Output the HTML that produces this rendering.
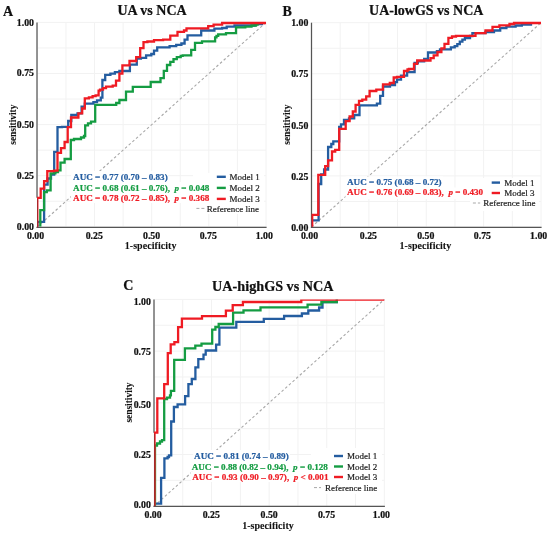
<!DOCTYPE html>
<html><head><meta charset="utf-8"><style>
html,body{margin:0;padding:0;background:#fff;}
svg{display:block;will-change:transform;font-family:"Liberation Serif",serif;}
text{white-space:pre;}
</style></head><body>
<svg width="550" height="536" viewBox="0 0 550 536">
<rect width="550" height="536" fill="#fff"/>
<g stroke="#f2f2f2" stroke-width="1"><line x1="37.40" y1="22.40" x2="37.40" y2="226.80"/><line x1="37.40" y1="226.80" x2="266.00" y2="226.80"/><line x1="65.97" y1="22.40" x2="65.97" y2="226.80"/><line x1="37.40" y1="201.25" x2="266.00" y2="201.25"/><line x1="94.55" y1="22.40" x2="94.55" y2="226.80"/><line x1="37.40" y1="175.70" x2="266.00" y2="175.70"/><line x1="123.12" y1="22.40" x2="123.12" y2="226.80"/><line x1="37.40" y1="150.15" x2="266.00" y2="150.15"/><line x1="151.70" y1="22.40" x2="151.70" y2="226.80"/><line x1="37.40" y1="124.60" x2="266.00" y2="124.60"/><line x1="180.28" y1="22.40" x2="180.28" y2="226.80"/><line x1="37.40" y1="99.05" x2="266.00" y2="99.05"/><line x1="208.85" y1="22.40" x2="208.85" y2="226.80"/><line x1="37.40" y1="73.50" x2="266.00" y2="73.50"/><line x1="237.43" y1="22.40" x2="237.43" y2="226.80"/><line x1="37.40" y1="47.95" x2="266.00" y2="47.95"/><line x1="266.00" y1="22.40" x2="266.00" y2="226.80"/><line x1="37.40" y1="22.40" x2="266.00" y2="22.40"/></g>
<line x1="37.40" y1="226.80" x2="266.00" y2="22.40" stroke="#a8a8a8" stroke-width="1.1" stroke-dasharray="2.6,2.3"/>
<rect x="71" y="171" width="97.0" height="11.0" fill="#fff"/>
<rect x="71" y="182" width="141.0" height="10.5" fill="#fff"/>
<rect x="71" y="192.5" width="141.0" height="10.5" fill="#fff"/>
<rect x="193" y="173" width="71.0" height="41.0" fill="#fff"/>
<line x1="36.40" y1="227.40" x2="266.60" y2="227.40" stroke="#555" stroke-width="1.25"/>
<line x1="37.00" y1="197.80" x2="37.00" y2="22.40" stroke="#555" stroke-width="1.25"/>
<clipPath id="clipA"><rect x="37.00" y="19.40" width="232.00" height="207.40"/></clipPath>
<g clip-path="url(#clipA)">
<polyline points="37.4,226.7 37.4,221.9 44.1,221.9 44.1,184.6 47.6,184.6 47.6,178.5 51.0,178.5 51.0,174.5 54.2,174.5 54.2,151.8 57.5,151.8 57.5,127.2 62.0,127.2 62.0,126.8 68.2,126.8 68.2,121.0 71.3,121.0 71.3,115.0 77.5,115.0 77.5,113.4 81.6,113.4 81.6,106.7 84.8,106.7 84.8,103.7 93.4,103.7 93.4,102.2 97.0,102.2 97.0,100.3 100.8,100.3 100.8,97.7 102.4,97.7 102.4,80.0 105.2,80.0 105.2,74.8 110.4,74.8 110.4,73.7 114.9,73.7 114.9,72.2 119.4,72.2 119.4,71.0 129.9,71.0 129.9,64.7 136.8,64.7 136.8,58.7 140.9,58.7 140.9,57.9 146.1,57.9 146.1,55.3 151.3,55.3 151.3,54.0 154.0,54.0 154.0,50.7 157.2,50.7 157.2,47.4 169.6,47.4 169.6,46.1 176.2,46.1 176.2,44.8 181.4,44.8 181.4,43.5 184.6,43.5 184.6,39.6 187.5,39.6 187.5,35.3 201.2,35.3 201.2,30.5 214.4,30.5 214.4,28.6 222.1,28.6 222.1,28.0 226.7,28.0 226.7,26.6 234.5,26.6 234.5,25.5 254.6,25.5 254.6,24.0 262.0,24.0 262.0,23.0" fill="none" stroke="#245da0" stroke-width="2.3" stroke-linejoin="miter" stroke-linecap="butt"/>
<polyline points="40.3,226.7 40.3,210.1 44.1,210.1 44.1,192.2 46.8,192.2 46.8,190.3 50.6,190.3 50.6,173.4 55.4,173.4 55.4,172.0 58.0,172.0 58.0,170.3 60.5,170.3 60.5,162.6 64.6,162.6 64.6,159.0 70.8,159.0 70.8,140.0 74.0,140.0 74.0,139.0 81.0,139.0 81.0,137.5 84.0,137.5 84.0,136.0 85.2,136.0 85.2,125.3 88.0,125.3 88.0,123.3 91.0,123.3 91.0,121.6 95.2,121.6 95.2,104.8 116.2,104.8 116.2,103.0 119.4,103.0 119.4,100.0 126.0,100.0 126.0,91.6 132.8,91.6 132.8,86.8 150.7,86.8 150.7,82.0 160.5,82.0 160.5,78.1 163.8,78.1 163.8,70.9 167.0,70.9 167.0,65.0 170.3,65.0 170.3,61.8 173.5,61.8 173.5,59.2 176.8,59.2 176.8,57.2 180.7,57.2 180.7,55.9 182.7,55.9 182.7,55.3 191.2,55.3 191.2,49.8 195.0,49.8 195.0,42.8 202.0,42.8 202.0,41.3 215.1,41.3 215.1,37.4 216.5,37.4 216.5,35.9 218.2,35.9 218.2,34.3 226.0,34.3 226.0,33.2 236.0,33.2 236.0,27.4 245.3,27.4 245.3,26.6 251.5,26.6 251.5,25.5 256.0,25.5 256.0,24.6 257.6,24.6 257.6,23.0" fill="none" stroke="#149c42" stroke-width="2.3" stroke-linejoin="miter" stroke-linecap="butt"/>
<polyline points="37.3,226.7 37.3,197.9 40.7,197.9 40.7,188.7 44.1,188.7 44.1,181.2 47.3,181.2 47.3,171.2 54.0,171.2 54.0,170.6 57.5,170.6 57.5,152.9 61.0,152.9 61.0,148.2 64.6,148.2 64.6,142.0 67.7,142.0 67.7,127.2 71.0,127.2 71.0,117.5 78.4,117.5 78.4,113.4 82.2,113.4 82.2,108.5 84.8,108.5 84.8,98.3 88.9,98.3 88.9,97.3 92.6,97.3 92.6,96.2 95.6,96.2 95.6,95.4 98.6,95.4 98.6,90.6 100.0,90.6 100.0,89.7 103.0,89.7 103.0,88.2 106.0,88.2 106.0,86.7 112.7,86.7 112.7,85.6 116.0,85.6 116.0,80.7 119.4,80.7 119.4,73.7 122.4,73.7 122.4,65.4 129.5,65.4 129.5,61.0 136.2,61.0 136.2,57.2 140.2,57.2 140.2,48.1 143.5,48.1 143.5,42.2 147.4,42.2 147.4,41.5 154.0,41.5 154.0,40.2 163.1,40.2 163.1,39.6 170.3,39.6 170.3,35.7 177.5,35.7 177.5,31.8 184.0,31.8 184.0,30.5 186.5,30.5 186.5,28.3 208.2,28.3 208.2,26.1 213.6,26.1 213.6,24.6 222.1,24.6 222.1,23.0 266.0,23.0" fill="none" stroke="#ef1b23" stroke-width="2.3" stroke-linejoin="miter" stroke-linecap="butt"/>
</g>
<line x1="37.50" y1="227.40" x2="37.50" y2="198.80" stroke="#a8262b" stroke-width="1.0"/>
<g stroke="#f2f2f2" stroke-width="1"><line x1="311.50" y1="22.70" x2="311.50" y2="227.00"/><line x1="311.50" y1="227.00" x2="541.00" y2="227.00"/><line x1="340.19" y1="22.70" x2="340.19" y2="227.00"/><line x1="311.50" y1="201.46" x2="541.00" y2="201.46"/><line x1="368.88" y1="22.70" x2="368.88" y2="227.00"/><line x1="311.50" y1="175.93" x2="541.00" y2="175.93"/><line x1="397.56" y1="22.70" x2="397.56" y2="227.00"/><line x1="311.50" y1="150.39" x2="541.00" y2="150.39"/><line x1="426.25" y1="22.70" x2="426.25" y2="227.00"/><line x1="311.50" y1="124.85" x2="541.00" y2="124.85"/><line x1="454.94" y1="22.70" x2="454.94" y2="227.00"/><line x1="311.50" y1="99.31" x2="541.00" y2="99.31"/><line x1="483.62" y1="22.70" x2="483.62" y2="227.00"/><line x1="311.50" y1="73.77" x2="541.00" y2="73.77"/><line x1="512.31" y1="22.70" x2="512.31" y2="227.00"/><line x1="311.50" y1="48.24" x2="541.00" y2="48.24"/><line x1="541.00" y1="22.70" x2="541.00" y2="227.00"/><line x1="311.50" y1="22.70" x2="541.00" y2="22.70"/></g>
<line x1="311.50" y1="227.00" x2="541.00" y2="22.70" stroke="#a8a8a8" stroke-width="1.1" stroke-dasharray="2.6,2.3"/>
<rect x="345.5" y="176.5" width="97.5" height="11.0" fill="#fff"/>
<rect x="345.5" y="187.5" width="138.5" height="11.5" fill="#fff"/>
<rect x="470" y="178" width="69.0" height="33.0" fill="#fff"/>
<line x1="310.90" y1="227.30" x2="541.60" y2="227.30" stroke="#555" stroke-width="1.25"/>
<line x1="311.50" y1="227.90" x2="311.50" y2="22.70" stroke="#555" stroke-width="1.25"/>
<clipPath id="clipB"><rect x="311.50" y="19.70" width="232.50" height="207.00"/></clipPath>
<g clip-path="url(#clipB)">
<polyline points="311.5,227.0 311.5,220.4 318.6,220.4 318.6,184.0 321.2,184.0 321.2,174.3 324.1,174.3 324.1,169.5 328.1,169.5 328.1,147.0 331.3,147.0 331.3,144.0 333.3,144.0 333.3,141.3 339.2,141.3 339.2,127.0 341.0,127.0 341.0,124.4 344.0,124.4 344.0,119.8 349.0,119.8 349.0,118.3 354.2,118.3 354.2,115.0 359.5,115.0 359.5,105.4 376.9,105.4 376.9,103.7 380.2,103.7 380.2,95.8 383.0,95.8 383.0,86.5 390.0,86.5 390.0,85.2 395.0,85.2 395.0,82.2 397.0,82.2 397.0,79.6 401.0,79.6 401.0,75.7 407.1,75.7 407.1,72.2 414.6,72.2 414.6,63.0 417.8,63.0 417.8,61.4 424.2,61.4 424.2,58.8 428.0,58.8 428.0,52.5 436.9,52.5 436.9,51.2 440.0,51.2 440.0,49.3 450.9,49.3 450.9,47.4 454.7,47.4 454.7,46.1 457.3,46.1 457.3,44.2 459.8,44.2 459.8,41.6 462.4,41.6 462.4,39.7 464.9,39.7 464.9,38.2 470.0,38.2 470.0,36.0 472.4,36.0 472.4,33.2 485.5,33.2 485.5,32.0 494.0,32.0 494.0,30.5 500.2,30.5 500.2,28.1 506.4,28.1 506.4,26.6 515.6,26.6 515.6,25.5 521.8,25.5 521.8,24.6 531.0,24.6 531.0,23.0" fill="none" stroke="#245da0" stroke-width="2.3" stroke-linejoin="miter" stroke-linecap="butt"/>
<polyline points="312.2,227.0 312.2,214.8 318.3,214.8 318.3,174.8 325.2,174.8 325.2,166.2 328.1,166.2 328.1,160.3 332.0,160.3 332.0,151.5 335.2,151.5 335.2,149.8 339.2,149.8 339.2,128.9 345.7,128.9 345.7,121.1 349.6,121.1 349.6,116.5 352.8,116.5 352.8,111.5 355.6,111.5 355.6,104.8 359.0,104.8 359.0,100.9 362.3,100.9 362.3,99.7 366.2,99.7 366.2,96.4 369.6,96.4 369.6,91.0 376.3,91.0 376.3,89.7 383.0,89.7 383.0,84.3 389.8,84.3 389.8,83.0 393.7,83.0 393.7,77.5 397.0,77.5 397.0,76.8 404.0,76.8 404.0,71.0 407.5,71.0 407.5,69.5 409.0,69.5 409.0,69.0 414.0,69.0 414.0,63.9 417.2,63.9 417.2,60.5 430.5,60.5 430.5,58.2 433.7,58.2 433.7,55.3 437.5,55.3 437.5,52.0 441.4,52.0 441.4,48.3 444.5,48.3 444.5,43.8 448.4,43.8 448.4,37.8 452.0,37.8 452.0,36.5 456.0,36.5 456.0,35.9 475.5,35.9 475.5,33.2 485.5,33.2 485.5,30.5 492.5,30.5 492.5,26.9 499.4,26.9 499.4,25.4 509.5,25.4 509.5,24.0 514.0,24.0 514.0,23.0 541.0,23.0" fill="none" stroke="#ef1b23" stroke-width="2.3" stroke-linejoin="miter" stroke-linecap="butt"/>
</g>
<g stroke="#f2f2f2" stroke-width="1"><line x1="154.00" y1="299.40" x2="154.00" y2="506.20"/><line x1="154.00" y1="506.20" x2="384.30" y2="506.20"/><line x1="182.79" y1="299.40" x2="182.79" y2="506.20"/><line x1="154.00" y1="480.35" x2="384.30" y2="480.35"/><line x1="211.57" y1="299.40" x2="211.57" y2="506.20"/><line x1="154.00" y1="454.50" x2="384.30" y2="454.50"/><line x1="240.36" y1="299.40" x2="240.36" y2="506.20"/><line x1="154.00" y1="428.65" x2="384.30" y2="428.65"/><line x1="269.15" y1="299.40" x2="269.15" y2="506.20"/><line x1="154.00" y1="402.80" x2="384.30" y2="402.80"/><line x1="297.94" y1="299.40" x2="297.94" y2="506.20"/><line x1="154.00" y1="376.95" x2="384.30" y2="376.95"/><line x1="326.73" y1="299.40" x2="326.73" y2="506.20"/><line x1="154.00" y1="351.10" x2="384.30" y2="351.10"/><line x1="355.51" y1="299.40" x2="355.51" y2="506.20"/><line x1="154.00" y1="325.25" x2="384.30" y2="325.25"/><line x1="384.30" y1="299.40" x2="384.30" y2="506.20"/><line x1="154.00" y1="299.40" x2="384.30" y2="299.40"/></g>
<line x1="154.00" y1="506.20" x2="384.30" y2="299.40" stroke="#a8a8a8" stroke-width="1.1" stroke-dasharray="2.6,2.3"/>
<rect x="193.2" y="450" width="96.8" height="11.0" fill="#fff"/>
<rect x="190.8" y="461" width="140.2" height="10.5" fill="#fff"/>
<rect x="190.8" y="471.5" width="140.2" height="10.5" fill="#fff"/>
<rect x="311" y="448" width="71.0" height="46.0" fill="#fff"/>
<line x1="153.40" y1="506.40" x2="384.90" y2="506.40" stroke="#555" stroke-width="1.25"/>
<line x1="154.00" y1="432.70" x2="154.00" y2="299.40" stroke="#555" stroke-width="1.25"/>
<clipPath id="clipC"><rect x="154.00" y="299.45" width="233.30" height="206.35"/></clipPath>
<g clip-path="url(#clipC)">
<polyline points="154.5,506.2 154.5,503.7 161.1,503.7 161.1,477.9 164.4,477.9 164.4,458.3 167.6,458.3 167.6,457.0 169.0,457.0 169.0,455.3 171.2,455.3 171.2,421.5 173.9,421.5 173.9,407.0 177.6,407.0 177.6,404.3 185.1,404.3 185.1,396.1 188.4,396.1 188.4,384.2 191.8,384.2 191.8,379.0 195.4,379.0 195.4,367.4 198.3,367.4 198.3,359.2 203.5,359.2 203.5,354.7 205.7,354.7 205.7,350.5 216.1,350.5 216.1,344.6 219.4,344.6 219.4,327.6 236.3,327.6 236.3,321.8 263.8,321.8 263.8,318.9 284.1,318.9 284.1,316.0 301.9,316.0 301.9,313.5 308.3,313.5 308.3,310.5 319.1,310.5 319.1,307.5 322.5,307.5 322.5,302.0 336.8,302.0 336.8,299.6" fill="none" stroke="#245da0" stroke-width="2.3" stroke-linejoin="miter" stroke-linecap="butt"/>
<polyline points="155.0,506.2 155.0,445.5 157.0,445.5 157.0,443.5 160.0,443.5 160.0,441.5 162.0,441.5 162.0,440.2 164.2,440.2 164.2,399.0 167.0,399.0 167.0,397.6 170.0,397.6 170.0,395.4 170.9,395.4 170.9,390.9 174.2,390.9 174.2,359.9 184.9,359.9 184.9,348.3 195.3,348.3 195.3,345.7 201.5,345.7 201.5,343.6 212.2,343.6 212.2,329.6 215.4,329.6 215.4,327.0 218.7,327.0 218.7,324.0 233.1,324.0 233.1,312.6 243.5,312.6 243.5,310.4 260.5,310.4 260.5,307.4 307.6,307.4 307.6,304.6 321.4,304.6 321.4,302.0 336.8,302.0 336.8,299.6" fill="none" stroke="#149c42" stroke-width="2.3" stroke-linejoin="miter" stroke-linecap="butt"/>
<polyline points="154.5,506.2 154.5,432.7 157.3,432.7 157.3,398.4 164.2,398.4 164.2,384.2 167.8,384.2 167.8,353.2 170.7,353.2 170.7,344.3 174.4,344.3 174.4,342.2 178.1,342.2 178.1,327.1 181.9,327.1 181.9,318.6 202.0,318.6 202.0,316.1 225.9,316.1 225.9,310.7 232.7,310.7 232.7,305.2 242.9,305.2 242.9,302.0 301.3,302.0 301.3,299.6 384.3,299.6" fill="none" stroke="#ef1b23" stroke-width="2.3" stroke-linejoin="miter" stroke-linecap="butt"/>
</g>
<line x1="154.50" y1="506.40" x2="154.50" y2="433.70" stroke="#a8262b" stroke-width="1.0"/>
<text x="2.9" y="16.4" font-size="14" font-weight="bold" text-anchor="start" fill="#111" stroke="#111" stroke-width="0.22" >A</text>
<text x="282.6" y="16.3" font-size="14" font-weight="bold" text-anchor="start" fill="#111" stroke="#111" stroke-width="0.22" >B</text>
<text x="123.2" y="289.6" font-size="14" font-weight="bold" text-anchor="start" fill="#111" stroke="#111" stroke-width="0.22" >C</text>
<text x="152" y="14.8" font-size="14" font-weight="bold" text-anchor="middle" fill="#111" stroke="#111" stroke-width="0.22" >UA vs NCA</text>
<text x="426.2" y="14.7" font-size="14" font-weight="bold" text-anchor="middle" fill="#111" stroke="#111" stroke-width="0.22" >UA-lowGS vs NCA</text>
<text x="272.8" y="290.8" font-size="14.2" font-weight="bold" text-anchor="middle" fill="#111" stroke="#111" stroke-width="0.22" >UA-highGS vs NCA</text>
<text x="35.6" y="238.8" font-size="9.8" font-weight="bold" text-anchor="middle" fill="#111" stroke="#111" stroke-width="0.22" >0.00</text>
<text x="34.0" y="229.6" font-size="9.8" font-weight="bold" text-anchor="end" fill="#111" stroke="#111" stroke-width="0.22" >0.00</text>
<text x="94.3" y="238.8" font-size="9.8" font-weight="bold" text-anchor="middle" fill="#111" stroke="#111" stroke-width="0.22" >0.25</text>
<text x="34.0" y="179.2" font-size="9.8" font-weight="bold" text-anchor="end" fill="#111" stroke="#111" stroke-width="0.22" >0.25</text>
<text x="151.6" y="238.8" font-size="9.8" font-weight="bold" text-anchor="middle" fill="#111" stroke="#111" stroke-width="0.22" >0.50</text>
<text x="34.0" y="128.4" font-size="9.8" font-weight="bold" text-anchor="end" fill="#111" stroke="#111" stroke-width="0.22" >0.50</text>
<text x="208.3" y="238.8" font-size="9.8" font-weight="bold" text-anchor="middle" fill="#111" stroke="#111" stroke-width="0.22" >0.75</text>
<text x="34.0" y="76.0" font-size="9.8" font-weight="bold" text-anchor="end" fill="#111" stroke="#111" stroke-width="0.22" >0.75</text>
<text x="264.3" y="238.8" font-size="9.8" font-weight="bold" text-anchor="middle" fill="#111" stroke="#111" stroke-width="0.22" >1.00</text>
<text x="34.0" y="25.8" font-size="9.8" font-weight="bold" text-anchor="end" fill="#111" stroke="#111" stroke-width="0.22" >1.00</text>
<text x="150.6" y="249.2" font-size="10" font-weight="bold" text-anchor="middle" fill="#111" stroke="#111" stroke-width="0.08" letter-spacing="0.05">1-specificity</text>
<text x="0" y="0" font-size="9.4" font-weight="bold" text-anchor="middle" fill="#111" stroke="#111" stroke-width="0.08" transform="translate(15.6,124.7) rotate(-90)">sensitivity</text>
<text x="309.5" y="239.0" font-size="9.8" font-weight="bold" text-anchor="middle" fill="#111" stroke="#111" stroke-width="0.22" >0.00</text>
<text x="308.3" y="231.2" font-size="9.8" font-weight="bold" text-anchor="end" fill="#111" stroke="#111" stroke-width="0.22" >0.00</text>
<text x="368.4" y="239.0" font-size="9.8" font-weight="bold" text-anchor="middle" fill="#111" stroke="#111" stroke-width="0.22" >0.25</text>
<text x="308.3" y="180.3" font-size="9.8" font-weight="bold" text-anchor="end" fill="#111" stroke="#111" stroke-width="0.22" >0.25</text>
<text x="425.8" y="239.0" font-size="9.8" font-weight="bold" text-anchor="middle" fill="#111" stroke="#111" stroke-width="0.22" >0.50</text>
<text x="308.3" y="129.0" font-size="9.8" font-weight="bold" text-anchor="end" fill="#111" stroke="#111" stroke-width="0.22" >0.50</text>
<text x="482.4" y="239.0" font-size="9.8" font-weight="bold" text-anchor="middle" fill="#111" stroke="#111" stroke-width="0.22" >0.75</text>
<text x="308.3" y="76.7" font-size="9.8" font-weight="bold" text-anchor="end" fill="#111" stroke="#111" stroke-width="0.22" >0.75</text>
<text x="538.7" y="239.0" font-size="9.8" font-weight="bold" text-anchor="middle" fill="#111" stroke="#111" stroke-width="0.22" >1.00</text>
<text x="308.3" y="26.0" font-size="9.8" font-weight="bold" text-anchor="end" fill="#111" stroke="#111" stroke-width="0.22" >1.00</text>
<text x="425.4" y="249.2" font-size="10" font-weight="bold" text-anchor="middle" fill="#111" stroke="#111" stroke-width="0.08" letter-spacing="0.05">1-specificity</text>
<text x="0" y="0" font-size="9.4" font-weight="bold" text-anchor="middle" fill="#111" stroke="#111" stroke-width="0.08" transform="translate(289.5,124.7) rotate(-90)">sensitivity</text>
<text x="153.1" y="517.8" font-size="9.8" font-weight="bold" text-anchor="middle" fill="#111" stroke="#111" stroke-width="0.22" >0.00</text>
<text x="150.8" y="508.4" font-size="9.8" font-weight="bold" text-anchor="end" fill="#111" stroke="#111" stroke-width="0.22" >0.00</text>
<text x="211.3" y="517.8" font-size="9.8" font-weight="bold" text-anchor="middle" fill="#111" stroke="#111" stroke-width="0.22" >0.25</text>
<text x="150.8" y="458.0" font-size="9.8" font-weight="bold" text-anchor="end" fill="#111" stroke="#111" stroke-width="0.22" >0.25</text>
<text x="269.2" y="517.8" font-size="9.8" font-weight="bold" text-anchor="middle" fill="#111" stroke="#111" stroke-width="0.22" >0.50</text>
<text x="150.8" y="407.8" font-size="9.8" font-weight="bold" text-anchor="end" fill="#111" stroke="#111" stroke-width="0.22" >0.50</text>
<text x="326.5" y="517.8" font-size="9.8" font-weight="bold" text-anchor="middle" fill="#111" stroke="#111" stroke-width="0.22" >0.75</text>
<text x="150.8" y="355.0" font-size="9.8" font-weight="bold" text-anchor="end" fill="#111" stroke="#111" stroke-width="0.22" >0.75</text>
<text x="381.4" y="517.8" font-size="9.8" font-weight="bold" text-anchor="middle" fill="#111" stroke="#111" stroke-width="0.22" >1.00</text>
<text x="150.8" y="304.9" font-size="9.8" font-weight="bold" text-anchor="end" fill="#111" stroke="#111" stroke-width="0.22" >1.00</text>
<text x="268.0" y="529.1" font-size="10" font-weight="bold" text-anchor="middle" fill="#111" stroke="#111" stroke-width="0.08" letter-spacing="0.05">1-specificity</text>
<text x="0" y="0" font-size="9.4" font-weight="bold" text-anchor="middle" fill="#111" stroke="#111" stroke-width="0.08" transform="translate(131.5,402.5) rotate(-90)">sensitivity</text>
<text x="73.1" y="179.9" font-size="9.1" font-weight="bold" text-anchor="start" fill="#245da0" stroke="#245da0" stroke-width="0.22" >AUC = 0.77 (0.70 &#8211; 0.83)</text>
<text x="73.1" y="190.5" font-size="9.1" font-weight="bold" text-anchor="start" fill="#149c42" stroke="#149c42" stroke-width="0.22" >AUC = 0.68 (0.61 &#8211; 0.76),  <tspan font-style="italic">p</tspan> = 0.048</text>
<text x="73.1" y="201.0" font-size="9.1" font-weight="bold" text-anchor="start" fill="#ef1b23" stroke="#ef1b23" stroke-width="0.22" >AUC = 0.78 (0.72 &#8211; 0.85),  <tspan font-style="italic">p</tspan> = 0.368</text>
<text x="347.0" y="185.1" font-size="9.1" font-weight="bold" text-anchor="start" fill="#245da0" stroke="#245da0" stroke-width="0.22" >AUC = 0.75 (0.68 &#8211; 0.72)</text>
<text x="347.0" y="195.0" font-size="9.1" font-weight="bold" text-anchor="start" fill="#ef1b23" stroke="#ef1b23" stroke-width="0.22" >AUC = 0.76 (0.69 &#8211; 0.83),  <tspan font-style="italic">p</tspan> = 0.430</text>
<text x="194.1" y="458.9" font-size="9.1" font-weight="bold" text-anchor="start" fill="#245da0" stroke="#245da0" stroke-width="0.22" >AUC = 0.81 (0.74 &#8211; 0.89)</text>
<text x="191.7" y="469.6" font-size="9.1" font-weight="bold" text-anchor="start" fill="#149c42" stroke="#149c42" stroke-width="0.22" >AUC = 0.88 (0.82 &#8211; 0.94),  <tspan font-style="italic">p</tspan> = 0.128</text>
<text x="192.3" y="480.4" font-size="9.1" font-weight="bold" text-anchor="start" fill="#ef1b23" stroke="#ef1b23" stroke-width="0.22" >AUC = 0.93 (0.90 &#8211; 0.97),  <tspan font-style="italic">p</tspan> &lt; 0.001</text>
<line x1="216.8" y1="176.8" x2="225.8" y2="176.8" stroke="#245da0" stroke-width="2.4"/>
<text x="229.6" y="180.0" font-size="9" font-weight="normal" text-anchor="start" fill="#222" stroke="#222" stroke-width="0.2" >Model 1</text>
<line x1="216.8" y1="187.9" x2="225.8" y2="187.9" stroke="#149c42" stroke-width="2.4"/>
<text x="229.6" y="191.1" font-size="9" font-weight="normal" text-anchor="start" fill="#222" stroke="#222" stroke-width="0.2" >Model 2</text>
<line x1="216.8" y1="198.9" x2="225.8" y2="198.9" stroke="#ef1b23" stroke-width="2.4"/>
<text x="229.6" y="202.1" font-size="9" font-weight="normal" text-anchor="start" fill="#222" stroke="#222" stroke-width="0.2" >Model 3</text>
<line x1="196.4" y1="208.4" x2="204.5" y2="208.4" stroke="#a8a8a8" stroke-width="1" stroke-dasharray="3,2"/>
<text x="206.7" y="211.6" font-size="9" font-weight="normal" text-anchor="start" fill="#222" stroke="#222" stroke-width="0.2" >Reference line</text>
<line x1="491.7" y1="182.6" x2="500.0" y2="182.6" stroke="#245da0" stroke-width="2.4"/>
<text x="504.3" y="185.79999999999998" font-size="9" font-weight="normal" text-anchor="start" fill="#222" stroke="#222" stroke-width="0.2" >Model 1</text>
<line x1="491.7" y1="193.0" x2="500.0" y2="193.0" stroke="#ef1b23" stroke-width="2.4"/>
<text x="504.3" y="196.2" font-size="9" font-weight="normal" text-anchor="start" fill="#222" stroke="#222" stroke-width="0.2" >Model 3</text>
<line x1="472.9" y1="203.0" x2="480.2" y2="203.0" stroke="#a8a8a8" stroke-width="1" stroke-dasharray="3,2"/>
<text x="483.3" y="206.2" font-size="9" font-weight="normal" text-anchor="start" fill="#222" stroke="#222" stroke-width="0.2" >Reference line</text>
<line x1="334" y1="456.0" x2="343" y2="456.0" stroke="#245da0" stroke-width="2.4"/>
<text x="347" y="459.2" font-size="9" font-weight="normal" text-anchor="start" fill="#222" stroke="#222" stroke-width="0.2" >Model 1</text>
<line x1="334" y1="466.5" x2="343" y2="466.5" stroke="#149c42" stroke-width="2.4"/>
<text x="347" y="469.7" font-size="9" font-weight="normal" text-anchor="start" fill="#222" stroke="#222" stroke-width="0.2" >Model 2</text>
<line x1="334" y1="477.0" x2="343" y2="477.0" stroke="#ef1b23" stroke-width="2.4"/>
<text x="347" y="480.2" font-size="9" font-weight="normal" text-anchor="start" fill="#222" stroke="#222" stroke-width="0.2" >Model 3</text>
<line x1="314" y1="487.6" x2="321" y2="487.6" stroke="#a8a8a8" stroke-width="1" stroke-dasharray="3,2"/>
<text x="325" y="490.8" font-size="9" font-weight="normal" text-anchor="start" fill="#222" stroke="#222" stroke-width="0.2" >Reference line</text>
</svg>
</body></html>
